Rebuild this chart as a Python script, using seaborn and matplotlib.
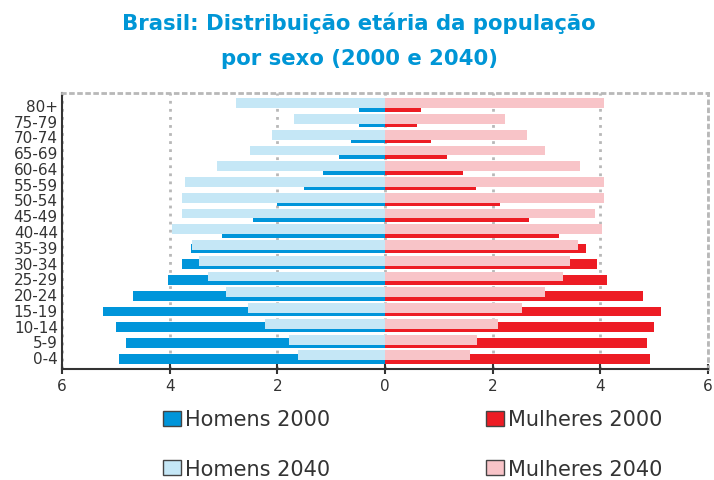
import numpy as np
import matplotlib
matplotlib.use("Agg")
import matplotlib.pyplot as plt
from matplotlib.patches import Patch
import seaborn as sns

# faixas etarias, de cima para baixo
ages = ["80+", "75-79", "70-74", "65-69", "60-64", "55-59", "50-54", "45-49",
        "40-44", "35-39", "30-34", "25-29", "20-24", "15-19", "10-14", "5-9", "0-4"]

# % da populacao
homens_2000 = [0.48, 0.48, 0.63, 0.86, 1.15, 1.51, 2.01, 2.46, 3.02, 3.60,
               3.78, 4.04, 4.69, 5.23, 4.99, 4.82, 4.95]
homens_2040 = [2.76, 1.69, 2.09, 2.51, 3.13, 3.72, 3.78, 3.78, 3.95, 3.59,
               3.46, 3.29, 2.96, 2.55, 2.22, 1.79, 1.62]
mulheres_2000 = [0.67, 0.60, 0.86, 1.15, 1.45, 1.69, 2.14, 2.68, 3.24, 3.74,
                 3.93, 4.13, 4.79, 5.12, 4.99, 4.86, 4.93]
mulheres_2040 = [4.06, 2.22, 2.63, 2.98, 3.63, 4.06, 4.06, 3.91, 4.04, 3.58,
                 3.43, 3.31, 2.98, 2.55, 2.10, 1.71, 1.58]

labels = ["Homens 2000", "Homens 2040", "Mulheres 2000", "Mulheres 2040"]
colors = {"Homens 2000": "#0095da", "Homens 2040": "#c5e7f6",
          "Mulheres 2000": "#ed1c24", "Mulheres 2040": "#f8c4c8"}

sns.set_style("white")
plt.rcParams["font.family"] = ["DejaVu Sans"]

fig = plt.figure(figsize=(7.14, 4.81), dpi=100)
ax = fig.add_axes([62 / 714, 1 - 370 / 481, (708 - 62) / 714, (370 - 94) / 481])

BAR_H = 0.63
OFFSET = 0.11


def draw(values, label, sign, dy):
    start = len(ax.patches)
    sns.barplot(x=sign * np.array(values), y=ages, orient="h", color=colors[label],
                width=BAR_H, saturation=1, errorbar=None, ax=ax)
    for p in ax.patches[start:]:
        p.set_y(p.get_y() + dy)
        p.set_linewidth(0)


# 2000 atras (deslocado para baixo), 2040 por cima (deslocado para cima)
draw(homens_2000, "Homens 2000", -1, OFFSET)
draw(mulheres_2000, "Mulheres 2000", 1, OFFSET)
draw(homens_2040, "Homens 2040", -1, -OFFSET)
draw(mulheres_2040, "Mulheres 2040", 1, -OFFSET)

ax.set_xlim(-6, 6)
ax.set_ylim(len(ages) - 1 + 0.76, -0.76)
ax.set_xlabel("")
ax.set_ylabel("")

ticks = np.arange(-6, 7, 2)
ax.set_xticks(ticks)
ax.set_xticklabels([str(abs(t)) for t in ticks])
ax.tick_params(axis="x", direction="inout", length=7, width=1.5, color="#333333",
               labelsize=11, labelcolor="#333333", pad=3, bottom=True)
ax.tick_params(axis="y", length=0, labelsize=11, labelcolor="#333333", pad=3)

dots = (0, (1, 1.9))
ax.set_axisbelow(True)
ax.xaxis.grid(True, color="#b8b8b8", linestyle=dots, linewidth=2)
ax.yaxis.grid(False)
for side in ["top", "right"]:
    ax.spines[side].set_color("#b8b8b8")
    ax.spines[side].set_linestyle(dots)
    ax.spines[side].set_linewidth(2)
for side in ["bottom", "left"]:
    ax.spines[side].set_color("#333333")
    ax.spines[side].set_linewidth(1.5)

fig.text(0.503, 1 - 41 / 481, "Brasil: Distribuição etária da população\npor sexo (2000 e 2040)",
         ha="center", va="center", fontsize=15.3, fontweight="bold",
         color="#0096d6", linespacing=1.95)

handles = [Patch(facecolor=colors[l], edgecolor="#444444", linewidth=1) for l in labels]
fig.legend(handles, labels, ncol=2, loc="center", bbox_to_anchor=(0.578, 1 - 445 / 481),
           frameon=False, fontsize=15, handlelength=0.87, handleheight=0.72,
           handletextpad=0.2, columnspacing=7.5, labelspacing=1.4, borderpad=0,
           labelcolor="#333333")

fig.savefig("out.png", dpi=100)
